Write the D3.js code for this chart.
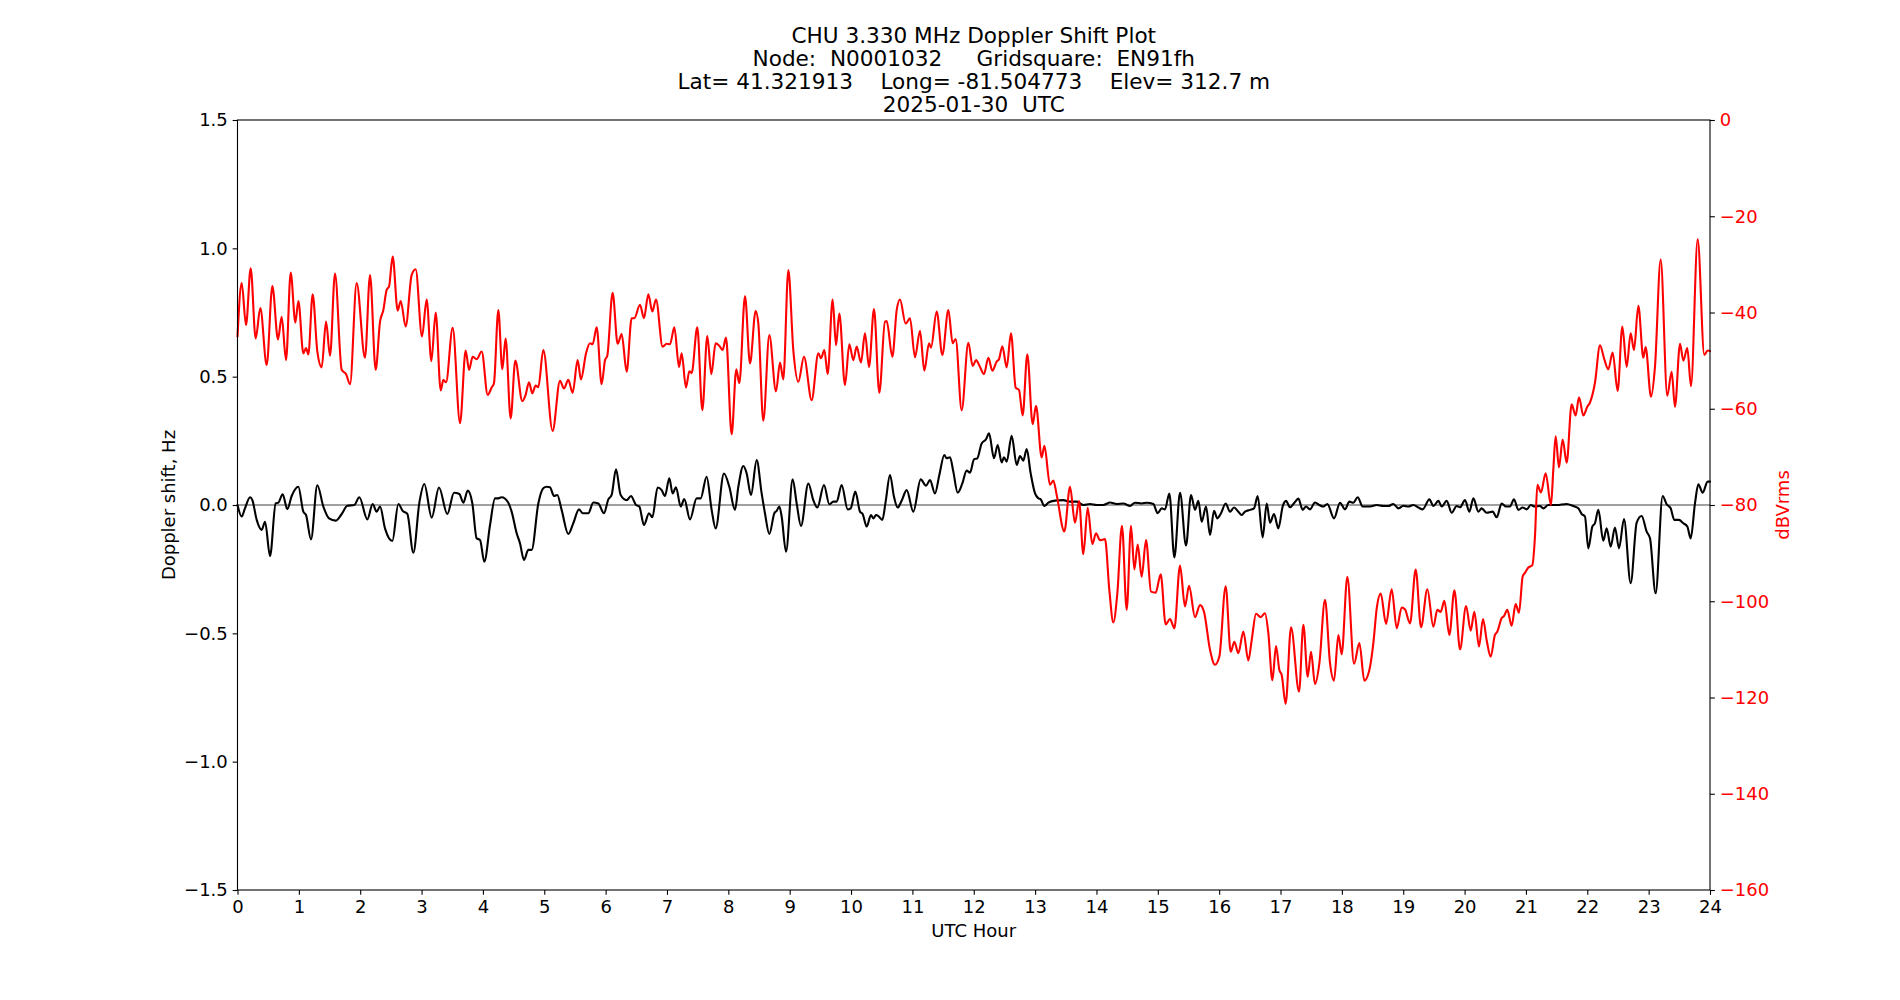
<!DOCTYPE html>
<html>
<head>
<meta charset="utf-8">
<script src="https://cdn.jsdelivr.net/npm/d3@7"></script>
<style>
  html, body { margin: 0; padding: 0; background: #fff; }
  svg { display: block; font-family: "DejaVu Sans", sans-serif; }
  text { white-space: pre; }
</style>
</head>
<body>
<svg id="chart" width="1900" height="1000"></svg>
<script>
// ---------------- DATA ----------------
const titleLines = [
  "CHU 3.330 MHz Doppler Shift Plot",
  "Node:  N0001032     Gridsquare:  EN91fh",
  "Lat= 41.321913    Long= -81.504773    Elev= 312.7 m",
  "2025-01-30  UTC"
];
const xLabel = "UTC Hour";
const yLeftLabel = "Doppler shift, Hz";
const yRightLabel = "dBVrms";

const xTicks = d3.range(0, 25, 1);
const yLeftTicks = [-1.5, -1.0, -0.5, 0.0, 0.5, 1.0, 1.5];
const yRightTicks = [-160, -140, -120, -100, -80, -60, -40, -20, 0];

// Doppler shift (Hz) vs UTC hour  [hour, Hz]
const dopplerSeries = [
[0.0,0.0],[0.068,-0.045],[0.122,-0.013],[0.204,0.030],[0.242,0.019],[0.313,-0.058],[0.394,-0.097],[0.449,-0.065],[0.530,-0.199],[0.622,0.006],[0.666,0.009],[0.736,0.042],[0.812,-0.016],[0.883,0.035],[0.992,0.071],[1.073,-0.026],[1.117,-0.039],[1.198,-0.134],[1.301,0.077],[1.399,-0.006],[1.492,-0.052],[1.600,-0.061],[1.698,-0.035],[1.790,-0.003],[1.904,0.0],[1.986,0.030],[2.116,-0.056],[2.203,0.004],[2.268,-0.026],[2.323,-0.006],[2.404,-0.091],[2.524,-0.140],[2.622,0.004],[2.692,-0.023],[2.768,-0.035],[2.866,-0.186],[2.964,0.009],[3.045,0.082],[3.165,-0.049],[3.284,0.068],[3.420,-0.035],[3.529,0.048],[3.616,0.043],[3.681,0.009],[3.752,0.056],[3.828,0.006],[3.898,-0.130],[3.953,-0.136],[4.023,-0.221],[4.116,-0.078],
[4.197,0.026],[4.251,0.026],[4.305,0.030],[4.414,0.009],[4.468,-0.026],[4.550,-0.110],[4.604,-0.149],[4.669,-0.214],[4.740,-0.175],[4.794,-0.175],[4.903,0.006],[4.984,0.065],[5.039,0.071],[5.093,0.069],[5.158,0.035],[5.212,0.039],[5.283,-0.019],[5.392,-0.113],[5.473,-0.071],[5.566,-0.017],[5.625,-0.032],[5.718,-0.032],[5.799,0.010],[5.881,0.006],[5.973,-0.032],[6.044,0.022],[6.098,0.039],[6.169,0.139],[6.245,0.039],[6.343,0.019],[6.413,0.035],[6.495,0.0],[6.549,-0.006],[6.625,-0.078],[6.707,-0.032],[6.761,-0.048],[6.848,0.068],[6.913,0.058],[6.967,0.035],[7.038,0.104],[7.092,0.045],[7.147,0.069],[7.223,-0.006],[7.282,0.023],[7.375,-0.056],[7.483,0.026],[7.549,0.026],[7.646,0.110],[7.728,-0.019],[7.793,-0.091],[7.929,0.123],[8.016,0.071],[8.108,-0.019],
[8.163,0.071],[8.244,0.152],[8.299,0.123],[8.369,0.039],[8.462,0.175],[8.543,0.045],[8.597,-0.032],[8.668,-0.113],[8.750,-0.032],[8.788,-0.023],[8.831,-0.006],[8.869,-0.045],[8.940,-0.182],[9.048,0.100],[9.114,0.006],[9.184,-0.082],[9.304,0.084],[9.385,0.019],[9.451,-0.010],[9.559,0.078],[9.646,0.003],[9.711,0.013],[9.766,0.013],[9.847,0.078],[9.945,-0.017],[9.994,-0.013],[10.070,0.052],[10.146,-0.026],[10.189,-0.035],[10.255,-0.084],[10.325,-0.039],[10.363,-0.052],[10.407,-0.039],[10.445,-0.043],[10.510,-0.058],[10.564,0.013],[10.635,0.117],[10.700,0.032],[10.760,-0.010],[10.825,0.017],[10.907,0.058],[11.015,-0.026],[11.135,0.100],[11.222,0.075],[11.287,0.097],[11.368,0.045],[11.439,0.117],[11.520,0.195],[11.558,0.182],[11.613,0.186],[11.667,0.130],[11.738,0.048],[11.814,0.084],[11.884,0.134],[11.939,0.126],[12.004,0.178],[12.058,0.182],[12.129,0.240],
[12.200,0.256],[12.249,0.279],[12.330,0.182],[12.390,0.234],[12.455,0.166],[12.493,0.186],[12.537,0.169],[12.618,0.270],[12.700,0.156],[12.754,0.191],[12.808,0.173],[12.863,0.218],[12.928,0.123],[12.999,0.045],[13.053,0.026],[13.091,0.022],[13.151,-0.004],[13.216,0.009],[13.324,0.017],[13.460,0.019],[13.569,0.013],[13.678,0.013],[13.786,0.0],[13.895,0.004],[14.004,0.0],[14.112,0.0],[14.221,0.010],[14.330,0.004],[14.438,0.006],[14.547,-0.004],[14.628,0.009],[14.737,0.006],[14.819,0.009],[14.927,0.004],[14.998,-0.032],[15.063,-0.013],[15.117,-0.017],[15.188,0.045],[15.270,-0.204],[15.362,0.048],[15.460,-0.158],[15.541,0.039],[15.606,-0.019],[15.661,0.016],[15.715,-0.065],[15.786,-0.006],[15.851,-0.117],[15.916,-0.023],[15.970,-0.052],[16.030,-0.032],[16.106,0.006],[16.177,-0.026],[16.242,-0.010],
[16.313,-0.026],[16.367,-0.039],[16.421,-0.026],[16.503,-0.019],[16.568,-0.013],[16.628,0.035],[16.709,-0.126],[16.775,0.006],[16.829,-0.069],[16.894,-0.035],[16.965,-0.091],[17.035,-0.006],[17.090,0.016],[17.155,-0.009],[17.226,0.009],[17.291,0.025],[17.361,-0.019],[17.416,-0.006],[17.481,-0.017],[17.562,0.010],[17.633,0.0],[17.698,-0.006],[17.763,0.004],[17.872,-0.052],[17.970,0.009],[18.051,-0.017],[18.122,0.013],[18.187,0.009],[18.258,0.030],[18.339,-0.006],[18.459,-0.006],[18.567,0.0],[18.676,-0.004],[18.758,-0.004],[18.839,0.004],[18.921,-0.013],[19.002,-0.003],[19.084,-0.006],[19.165,0.0],[19.247,-0.010],[19.317,-0.017],[19.426,0.022],[19.491,-0.004],[19.573,0.016],[19.627,-0.006],[19.708,0.016],[19.790,-0.030],[19.871,-0.004],[19.926,-0.009],[20.007,0.019],[20.078,-0.026],[20.143,0.026],[20.225,-0.026],[20.279,-0.013],[20.360,-0.030],
[20.457,-0.026],[20.523,-0.048],[20.604,0.006],[20.675,-0.006],[20.740,-0.006],[20.805,0.022],[20.876,-0.019],[20.946,-0.010],[21.012,-0.017],[21.077,0.0],[21.147,-0.006],[21.229,-0.004],[21.283,-0.013],[21.365,0.0],[21.501,0.0],[21.664,0.004],[21.772,-0.004],[21.854,-0.013],[21.908,-0.035],[21.962,-0.045],[22.017,-0.169],[22.082,-0.084],[22.125,-0.071],[22.180,-0.019],[22.261,-0.139],[22.316,-0.091],[22.381,-0.162],[22.451,-0.088],[22.517,-0.169],[22.598,-0.055],[22.707,-0.305],[22.805,-0.069],[22.886,-0.043],[22.968,-0.104],[23.022,-0.130],[23.114,-0.344],[23.228,0.035],[23.293,0.003],[23.359,-0.013],[23.418,-0.058],[23.494,-0.058],[23.565,-0.071],[23.630,-0.084],[23.685,-0.130],[23.755,0.006],[23.810,0.081],[23.880,0.048],[23.962,0.091],[24.0,0.091]
];

// Signal level (dBVrms) vs UTC hour  [hour, dB]
const powerSeries = [
[0.0,-45.0],[0.068,-33.9],[0.139,-42.6],[0.215,-30.8],[0.296,-45.4],[0.372,-39.1],[0.476,-50.9],[0.568,-34.5],[0.660,-45.6],[0.720,-40.9],[0.791,-49.9],[0.867,-31.7],[0.943,-42.1],[0.992,-37.6],[1.073,-48.5],[1.117,-47.4],[1.155,-48.7],[1.225,-36.2],[1.301,-48.1],[1.372,-51.4],[1.443,-41.9],[1.508,-49.0],[1.589,-31.9],[1.698,-51.9],[1.769,-52.8],[1.834,-54.9],[1.942,-33.9],[2.078,-49.4],[2.160,-32.2],[2.252,-51.9],[2.323,-41.9],[2.377,-39.5],[2.431,-35.3],[2.470,-34.6],[2.529,-28.4],[2.611,-39.6],[2.660,-37.6],[2.741,-42.9],[2.839,-32.2],[2.904,-31.0],[3.007,-45.0],[3.083,-37.3],[3.160,-50.1],[3.230,-40.0],[3.312,-56.2],[3.355,-54.0],[3.399,-54.5],[3.507,-43.2],[3.627,-63.0],[3.719,-47.9],[3.774,-51.9],[3.833,-49.2],[3.898,-49.7],[3.980,-48.1],[4.078,-57.1],
[4.142,-55.6],[4.180,-54.7],[4.251,-39.5],[4.316,-51.8],[4.370,-45.4],[4.452,-62.0],[4.528,-50.0],[4.642,-58.4],[4.696,-57.1],[4.751,-54.5],[4.805,-56.8],[4.859,-55.2],[4.903,-55.5],[4.984,-47.8],[5.136,-64.6],[5.256,-54.2],[5.321,-55.8],[5.392,-54.0],[5.462,-56.7],[5.544,-49.9],[5.598,-53.9],[5.680,-48.5],[5.745,-46.4],[5.788,-46.6],[5.854,-43.1],[5.935,-54.9],[5.990,-49.9],[6.027,-49.0],[6.114,-35.9],[6.196,-46.5],[6.261,-44.5],[6.343,-52.3],[6.424,-41.2],[6.468,-41.2],[6.560,-38.4],[6.625,-41.2],[6.696,-36.2],[6.761,-39.8],[6.821,-37.3],[6.929,-47.1],[6.995,-46.5],[7.049,-46.6],[7.120,-43.1],[7.196,-51.3],[7.239,-48.5],[7.310,-55.6],[7.364,-52.2],[7.402,-52.6],[7.494,-43.1],[7.576,-60.3],[7.657,-44.9],[7.723,-52.8],[7.793,-46.4],[7.864,-47.1],[7.907,-47.8],[7.962,-45.2],[8.054,-65.3],[8.130,-51.8],
[8.179,-54.7],[8.272,-36.6],[8.353,-50.6],[8.445,-39.7],[8.489,-42.3],[8.570,-62.5],[8.668,-44.7],[8.777,-56.4],[8.842,-50.4],[8.896,-53.9],[8.978,-31.2],[9.059,-47.8],[9.141,-54.4],[9.233,-49.2],[9.358,-58.2],[9.467,-48.5],[9.510,-49.5],[9.565,-47.8],[9.619,-52.8],[9.700,-37.3],[9.755,-46.8],[9.809,-40.2],[9.901,-55.1],[9.972,-46.6],[10.037,-49.9],[10.092,-47.1],[10.162,-50.4],[10.227,-44.3],[10.293,-51.3],[10.374,-39.3],[10.461,-56.7],[10.553,-41.9],[10.581,-41.8],[10.673,-49.2],[10.744,-39.5],[10.798,-37.3],[10.890,-42.3],[10.961,-41.2],[11.042,-49.3],[11.124,-43.8],[11.194,-52.1],[11.271,-46.4],[11.303,-47.3],[11.396,-39.8],[11.488,-48.8],[11.586,-39.5],[11.656,-46.4],[11.705,-45.5],[11.803,-60.3],[11.912,-46.3],[11.982,-51.1],[12.037,-49.9],[12.091,-51.0],[12.167,-52.8],
[12.238,-49.4],[12.303,-52.1],[12.374,-50.2],[12.412,-49.7],[12.466,-47.0],[12.537,-51.4],[12.607,-44.3],[12.683,-55.6],[12.738,-56.1],[12.797,-61.4],[12.873,-48.7],[12.960,-63.2],[13.015,-59.4],[13.107,-70.1],[13.151,-67.7],[13.243,-75.8],[13.297,-74.9],[13.352,-77.9],[13.477,-85.5],[13.569,-76.2],[13.650,-83.7],[13.716,-79.2],[13.786,-90.2],[13.857,-80.6],[13.933,-88.1],[13.993,-85.9],[14.058,-87.3],[14.139,-87.1],[14.210,-97.7],[14.275,-104.4],[14.340,-98.4],[14.416,-84.3],[14.493,-101.8],[14.563,-84.3],[14.618,-93.4],[14.672,-88.2],[14.737,-94.9],[14.808,-87.3],[14.889,-98.0],[14.965,-98.2],[15.047,-94.4],[15.128,-104.8],[15.199,-103.7],[15.270,-105.6],[15.362,-92.6],[15.443,-101.1],[15.509,-96.8],[15.606,-103.3],[15.688,-100.8],[15.753,-102.2],[15.851,-110.1],[15.932,-113.2],[16.003,-111.5],[16.106,-96.9],[16.188,-110.5],
[16.248,-108.4],[16.313,-110.8],[16.394,-106.3],[16.476,-112.3],[16.530,-108.1],[16.601,-102.6],[16.677,-103.3],[16.747,-102.5],[16.802,-106.7],[16.867,-116.4],[16.927,-109.3],[16.981,-114.3],[17.019,-115.3],[17.084,-121.3],[17.171,-105.4],[17.302,-118.8],[17.372,-104.9],[17.443,-115.7],[17.497,-110.5],[17.562,-117.2],[17.633,-112.9],[17.725,-99.7],[17.807,-112.9],[17.872,-116.5],[17.943,-107.0],[17.997,-111.0],[18.089,-94.9],[18.198,-113.0],[18.285,-108.7],[18.366,-116.5],[18.448,-114.3],[18.513,-108.7],[18.568,-101.5],[18.633,-98.4],[18.720,-104.7],[18.812,-97.5],[18.894,-105.6],[18.975,-101.3],[19.029,-101.7],[19.111,-104.6],[19.203,-93.4],[19.290,-105.4],[19.393,-97.5],[19.491,-105.3],[19.556,-101.8],[19.611,-102.2],[19.670,-99.9],[19.752,-107.0],[19.834,-97.7],[19.926,-110.0],[20.024,-101.0],[20.100,-106.1],[20.159,-102.2],[20.235,-109.4],[20.300,-103.7],
[20.360,-108.1],[20.425,-111.5],[20.495,-107.0],[20.534,-106.3],[20.604,-103.5],[20.642,-103.1],[20.697,-101.8],[20.767,-105.1],[20.832,-100.6],[20.887,-102.4],[20.946,-94.9],[20.984,-94.1],[21.039,-93.0],[21.104,-92.5],[21.147,-86.6],[21.186,-75.8],[21.245,-77.4],[21.321,-73.4],[21.408,-80.0],[21.446,-72.7],[21.484,-65.7],[21.539,-72.2],[21.598,-66.4],[21.664,-71.2],[21.745,-59.1],[21.810,-61.4],[21.865,-57.6],[21.935,-61.4],[22.000,-59.6],[22.044,-58.7],[22.125,-54.6],[22.207,-46.8],[22.272,-49.5],[22.343,-51.8],[22.413,-48.3],[22.495,-56.3],[22.571,-42.9],[22.642,-51.3],[22.707,-44.3],[22.761,-47.8],[22.832,-38.6],[22.913,-49.4],[22.951,-47.2],[23.038,-57.5],[23.103,-51.3],[23.196,-29.0],[23.304,-57.3],[23.375,-52.3],[23.429,-59.6],[23.511,-46.5],[23.565,-50.0],[23.630,-47.4],[23.690,-55.3],[23.799,-24.8],[23.907,-48.8],[23.962,-47.9],[24.0,-48.0]
];

// ---------------- DRAW ----------------
const W = 1900, H = 1000;
const L = 237.5, R = 1710, T = 120, B = 890;
const tickLen = 4.86, tickPad = 4.86;
const tickFont = 18, labelFont = 18, titleFont = 21.6;

const svg = d3.select("#chart");
svg.append("rect").attr("width", W).attr("height", H).attr("fill", "#fff");

const x = d3.scaleLinear().domain([0, 24]).range([L, R]);
const yL = d3.scaleLinear().domain([-1.5, 1.5]).range([B, T]);
const yR = d3.scaleLinear().domain([-160, 0]).range([B, T]);

// zero reference line
svg.append("line")
  .attr("x1", x(0)).attr("x2", x(24))
  .attr("y1", yL(0)).attr("y2", yL(0))
  .attr("stroke", "#808080").attr("stroke-width", 1.4);

// doppler line
const dopLine = d3.line().x(d => x(d[0])).y(d => yL(d[1])).curve(d3.curveMonotoneX);
svg.append("path").datum(dopplerSeries)
  .attr("d", dopLine).attr("fill", "none")
  .attr("stroke", "#000").attr("stroke-width", 2.1)
  .attr("stroke-linejoin", "round").attr("stroke-linecap", "round");

// power line (right axis)
const pwrLine = d3.line().x(d => x(d[0])).y(d => yR(d[1])).curve(d3.curveMonotoneX);
svg.append("path").datum(powerSeries)
  .attr("d", pwrLine).attr("fill", "none")
  .attr("stroke", "#ff0000").attr("stroke-width", 2.1)
  .attr("stroke-linejoin", "round").attr("stroke-linecap", "round");

// axes
function styleAxis(g, color) {
  g.select(".domain").remove();
  g.selectAll(".tick line").attr("stroke", "#000").attr("stroke-width", 1.1);
  g.selectAll(".tick text").attr("fill", color)
    .attr("font-family", "DejaVu Sans").attr("font-size", tickFont);
}

const gx = svg.append("g").attr("transform", `translate(0,${B})`)
  .call(d3.axisBottom(x).tickValues(xTicks).tickFormat(d3.format("d"))
    .tickSize(tickLen).tickPadding(tickPad));
styleAxis(gx, "#000");

const gyl = svg.append("g").attr("transform", `translate(${L},0)`)
  .call(d3.axisLeft(yL).tickValues(yLeftTicks).tickFormat(d3.format(".1f"))
    .tickSize(tickLen).tickPadding(tickPad));
styleAxis(gyl, "#000");

const gyr = svg.append("g").attr("transform", `translate(${R},0)`)
  .call(d3.axisRight(yR).tickValues(yRightTicks).tickFormat(d3.format("d"))
    .tickSize(tickLen).tickPadding(tickPad));
styleAxis(gyr, "#ff0000");

// frame
svg.append("rect")
  .attr("x", L).attr("y", T).attr("width", R - L).attr("height", B - T)
  .attr("fill", "none").attr("stroke", "#000").attr("stroke-width", 1.1);

// labels
svg.append("text")
  .attr("x", (L + R) / 2).attr("y", 936.5)
  .attr("text-anchor", "middle").attr("font-size", labelFont).attr("fill", "#000")
  .text(xLabel);

svg.append("text")
  .attr("transform", `translate(174.5,${(T + B) / 2}) rotate(-90)`)
  .attr("text-anchor", "middle").attr("font-size", labelFont).attr("fill", "#000")
  .text(yLeftLabel);

svg.append("text")
  .attr("transform", `translate(1789,${(T + B) / 2}) rotate(-90)`)
  .attr("text-anchor", "middle").attr("font-size", labelFont).attr("fill", "#ff0000")
  .text(yRightLabel);

// title
const titleBase = [42.5, 65.5, 88.5, 111.5];
svg.append("g").selectAll("text").data(titleLines).join("text")
  .attr("x", (L + R) / 2).attr("y", (d, i) => titleBase[i])
  .attr("text-anchor", "middle").attr("font-size", titleFont).attr("fill", "#000")
  .text(d => d);
</script>
</body>
</html>
